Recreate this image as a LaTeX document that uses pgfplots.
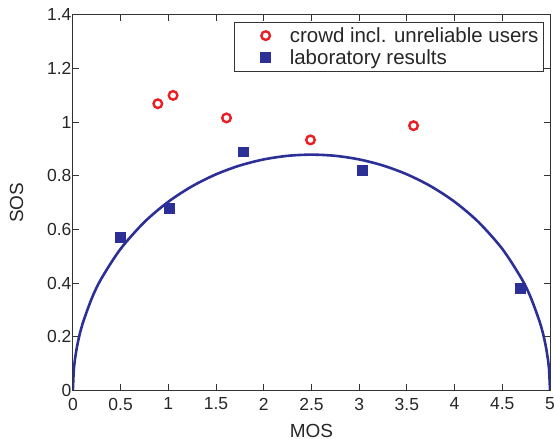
\documentclass[border=0pt]{standalone}
\usepackage{fontspec}
\setmainfont{Liberation Sans}
\usepackage{pgfplots}
\pgfplotsset{compat=1.18}
\definecolor{labblue}{RGB}{43,47,150}
\definecolor{crowdred}{RGB}{235,30,35}
\pgfplotsset{
  wideimg/.style={legend image code/.code={
    \path (0pt,0pt) (48pt,0pt);
    \draw[mark repeat=2,mark phase=2,##1] plot coordinates {(0pt,0pt)(27pt,0pt)(54pt,0pt)};}},
}
\begin{document}
\begin{tikzpicture}
\begin{axis}[
  name=main,
  scale only axis,
  width=478pt, height=376pt,
  xmin=0, xmax=5, ymin=0, ymax=1.4,
  xtick={0,0.5,...,5}, ytick={0,0.2,...,1.4},
  xticklabels={0,0.5,1,1.5,2,2.5,3,3.5,4,4.5,5},
  yticklabels={0,0.2,0.4,0.6,0.8,1,1.2,1.4},
  tick align=inside, major tick length=6pt,
  tick style={black!80, line width=1pt},
  axis line style={black!80, line width=1pt},
  tick label style={font=\fontsize{17.5}{19}\selectfont, text=black!85},
  label style={font=\fontsize{19}{21}\selectfont, text=black!85},
  xticklabel style={yshift=-4pt},
  yticklabel style={xshift=2pt},
  xlabel={MOS}, ylabel={SOS},
  xlabel style={yshift=-7pt},
  ylabel style={at={(rel axis cs:0,0.5)}, anchor=south, yshift=46pt},
  legend style={at={(1,1)}, xshift=-6pt, yshift=-7pt, anchor=north east,
    font=\fontsize{20.5}{22}\selectfont, draw=black!80, line width=1pt,
    row sep=4pt, inner xsep=3pt, inner ysep=4pt, text=black!85,
    nodes={inner ysep=1pt, inner xsep=2pt}},
  legend cell align=left,
]
\addplot[only marks, mark=o, mark size=4.3pt, draw=crowdred, line width=2.4pt, wideimg]
  coordinates {(0.89,1.069)(1.05,1.10)(1.61,1.016)(2.49,0.934)(3.57,0.987)};
\addlegendentry{crowd incl. unreliable users}
\addplot[only marks, mark=square*, mark size=5pt, draw=labblue, fill=labblue, wideimg]
  coordinates {(0.50,0.57)(1.01,0.68)(1.79,0.89)(3.03,0.82)(4.69,0.38)};
\addlegendentry{laboratory results}
\addplot[labblue, line width=2.6pt, smooth, forget plot]
  coordinates {(0,0)(0.01,0.0785)(0.02,0.111)(0.05,0.1749)(0.1,0.2461)(0.2,0.3445)
  (0.3,0.4175)(0.5,0.5274)(0.75,0.6277)(1.0,0.7032)(1.25,0.7612)(1.5,0.8056)
  (1.75,0.8385)(2.0,0.8612)(2.25,0.8746)(2.5,0.879)(2.75,0.8746)(3.0,0.8612)
  (3.25,0.8385)(3.5,0.8056)(3.75,0.7612)(4.0,0.7032)(4.25,0.6277)(4.5,0.5274)
  (4.7,0.4175)(4.8,0.3445)(4.9,0.2461)(4.95,0.1749)(4.98,0.111)(4.99,0.0785)(5,0)};
\end{axis}
\path (main.south west) ++(-73pt,-48pt) coordinate (bl);
\path (main.north east) ++(4pt,15pt) coordinate (tr);
\pgfresetboundingbox
\path (bl) rectangle (tr);
\end{tikzpicture}
\end{document}
